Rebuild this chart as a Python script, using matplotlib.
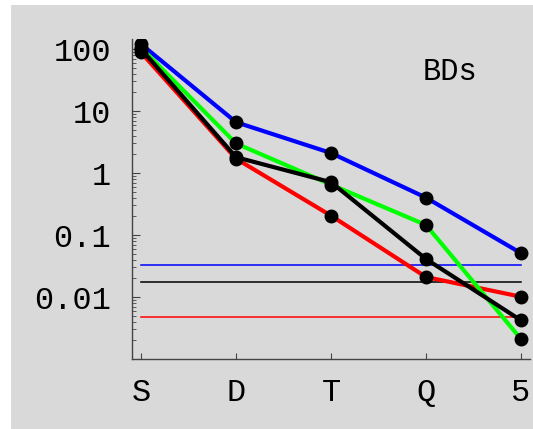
import numpy as np
import matplotlib
matplotlib.use('Agg')
import matplotlib.pyplot as plt
from matplotlib.patches import Rectangle
from matplotlib.ticker import FixedLocator, LogLocator, NullFormatter

# data
stages = ['S', 'D', 'T', 'Q', '5']
blue_vals = [120, 6.6, 2.1, 0.40, 0.051]
green_vals = [105, 3.0, 0.65, 0.145, 0.0021]
black_vals = [100, 1.8, 0.71, 0.041, 0.0042]
red_vals = [88, 1.7, 0.205, 0.021, 0.0101]

# horizontal reference levels
levels = [0.033, 0.0177, 0.0048]
level_colors = ['#0000ff', '#000000', '#ff0000']

y_ticks = [100, 10, 1, 0.1, 0.01]
y_labels = ['100', '10', '1', '0.1', '0.01']

W, H = 533, 429
fig = plt.figure(figsize=(W / 100, H / 100), dpi=100)
fig.patch.set_facecolor('white')
fig.patches.append(Rectangle((11 / W, 0), 1, 1 - 5 / H, transform=fig.transFigure,
                             facecolor='#d9d9d9', edgecolor='none', zorder=-10))

ax = fig.add_axes([132 / W, 70 / H, 398 / W, 320 / H])
ax.set_facecolor('none')

x = np.arange(1, len(stages) + 1)

for c, v in zip(level_colors, levels):
    ax.plot([x[0], x[-1]], [v, v], color=c, lw=1.1, zorder=2)

series = [(blue_vals, '#0000ff'), (red_vals, '#ff0000'),
          (green_vals, '#00ff00'), (black_vals, '#000000')]
for vals, c in series:
    ax.plot(x, vals, color=c, lw=3, solid_capstyle='butt', zorder=3)
for vals, c in series:
    ax.plot(x, vals, ls='none', marker='o', ms=9, color='black', zorder=4)

ax.set_yscale('log')
ax.set_ylim(0.001, 145)
ax.set_xlim(0.905, 5.095)

ax.yaxis.set_major_locator(FixedLocator(y_ticks))
ax.set_yticklabels(y_labels)
ax.yaxis.set_minor_locator(LogLocator(base=10, subs=np.arange(2, 10)))
ax.yaxis.set_minor_formatter(NullFormatter())
ax.set_xticks(x)
ax.set_xticklabels(stages)

font = 'Liberation Mono'
for lab in ax.get_xticklabels() + ax.get_yticklabels():
    lab.set_fontfamily(font)
    lab.set_fontsize(23)

ax.tick_params(axis='y', which='major', direction='in', length=6, width=0.8,
               color='#444444', pad=15)
ax.tick_params(axis='y', which='minor', direction='in', length=3, width=0.6,
               color='#444444')
ax.tick_params(axis='x', direction='in', length=4, width=0.8,
               color='#444444', pad=14)

for s in ['top', 'right']:
    ax.spines[s].set_visible(False)
for s in ['left', 'bottom']:
    ax.spines[s].set_color('#444444')
    ax.spines[s].set_linewidth(1.0)

ax.text(4.25, 42, 'BDs', fontfamily=font, fontsize=22, ha='center', va='center')

fig.savefig('out.png', dpi=100)
